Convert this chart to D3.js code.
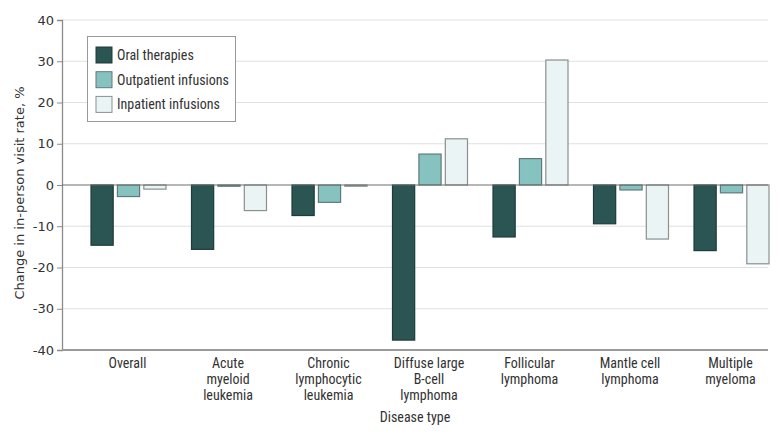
<!DOCTYPE html>
<html><head><meta charset="utf-8">
<script src="https://cdn.jsdelivr.net/npm/d3@7"></script>
<style>body{margin:0;background:#fff}</style>
</head><body>
<svg id="c" width="780" height="436"></svg>
<script>
const categories = [["Overall"],["Acute","myeloid","leukemia"],["Chronic","lymphocytic","leukemia"],["Diffuse large","B-cell","lymphoma"],["Follicular","lymphoma"],["Mantle cell","lymphoma"],["Multiple","myeloma"]];
const seriesNames = ["Oral therapies","Outpatient infusions","Inpatient infusions"];
const oral = [-14.6,-15.6,-7.4,-37.6,-12.6,-9.4,-15.9];
const outpatient = [-2.8,-0.3,-4.2,7.5,6.4,-1.2,-1.9];
const inpatient = [-1.0,-6.2,-0.3,11.2,30.3,-13.1,-19.1];
const yTicks = [-40,-30,-20,-10,0,10,20,30,40];

const fills = ["#2b5553","#86c3c0","#eaf4f5"];
const strokes = ["#1e3b3a","#5f7a79","#8a8f8f"];
const series = [oral, outpatient, inpatient];
const condensed = "'Liberation Sans Narrow','Roboto Condensed','Arial Narrow',sans-serif";

const svg = d3.select("#c");
const x0 = 62, x1 = 768;
const y = d3.scaleLinear().domain([-40,40]).range([350,20]);
const xb = d3.scaleBand().domain(d3.range(categories.length)).range([77.25,780.75]).paddingInner(0);
const xs = d3.scaleBand().domain(d3.range(3)).range([-36.5,38.5]).paddingInner(4/25).paddingOuter(0);

// grid
svg.append("g").selectAll("line").data(yTicks.filter(d=>d!==0 && d!==-40)).join("line")
  .attr("x1",x0).attr("x2",x1).attr("y1",d=>y(d)).attr("y2",d=>y(d))
  .attr("stroke","#e0e0e0").attr("stroke-width",1.2);

// y axis
const ya = svg.append("g").attr("transform",`translate(${x0},0)`)
  .call(d3.axisLeft(y).tickValues(yTicks).tickSize(5).tickPadding(3).tickFormat(d=>d));
ya.select(".domain").attr("stroke","#8a8a8a").attr("stroke-width",1.3);
ya.selectAll(".tick line").attr("stroke","#8a8a8a");
ya.selectAll("text").attr("font-family","'DejaVu Sans',sans-serif").attr("font-size",13).attr("fill","#333");

// bars
const g = svg.append("g");
categories.forEach((c,i)=>{
  series.forEach((s,j)=>{
    const v = s[i];
    g.append("rect")
      .attr("x", xb(i)+xb.bandwidth()/2 + xs(j))
      .attr("width", xs.bandwidth())
      .attr("y", y(Math.max(0,v)))
      .attr("height", Math.abs(y(v)-y(0)))
      .attr("fill", fills[j]).attr("stroke", strokes[j]).attr("stroke-width",1.2);
  });
});

// zero line
svg.append("line").attr("x1",x0).attr("x2",x1).attr("y1",y(0)).attr("y2",y(0))
  .attr("stroke","#6f6f6f").attr("stroke-width",1.2);
// bottom axis
svg.append("line").attr("x1",x0).attr("x2",x1).attr("y1",y(-40)).attr("y2",y(-40))
  .attr("stroke","#9a9a9a").attr("stroke-width",2);

// x labels
categories.forEach((c,i)=>{
  const t = svg.append("text").attr("text-anchor","middle")
    .attr("font-family",condensed).attr("font-size",14).attr("fill","#333");
  c.forEach((line,k)=>{
    t.append("tspan").attr("x", xb(i)+xb.bandwidth()/2).attr("y", 368 + k*16).text(line);
  });
});
svg.append("text").attr("x",415).attr("y",422).attr("text-anchor","middle")
  .attr("font-family",condensed).attr("font-size",14).attr("fill","#333").text("Disease type");

// y title
svg.append("text").attr("transform",`translate(24,193) rotate(-90)`).attr("text-anchor","middle")
  .attr("font-family","'DejaVu Sans',sans-serif").attr("font-size",13).attr("fill","#333")
  .text("Change in in-person visit rate, %");

// legend
const lg = svg.append("g");
lg.append("rect").attr("x",87.5).attr("y",36.5).attr("width",148).attr("height",85)
  .attr("fill","#fff").attr("stroke","#999").attr("stroke-width",1);
seriesNames.forEach((n,j)=>{
  const cy = 55 + j*24.7;
  lg.append("rect").attr("x",96).attr("y",cy-8).attr("width",16).attr("height",16)
    .attr("fill",fills[j]).attr("stroke",strokes[j]).attr("stroke-width",1);
  lg.append("text").attr("x",117).attr("y",cy+5).attr("font-family",condensed)
    .attr("font-size",14).attr("fill","#333").text(n);
});
</script>
</body></html>
